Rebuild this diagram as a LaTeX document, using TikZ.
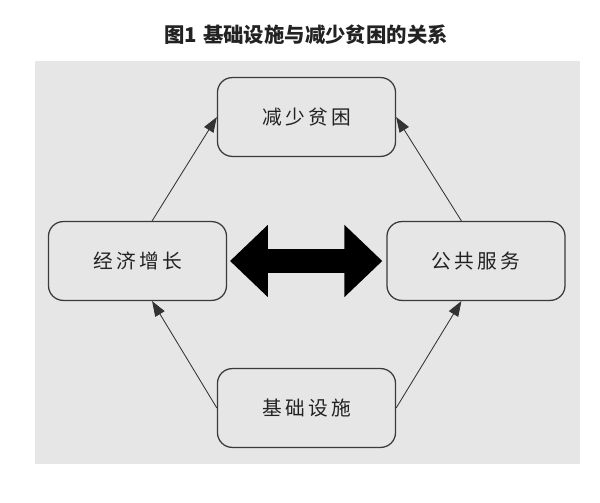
\documentclass[tikz,border=0pt]{standalone}
\usepackage{fontspec}
\usepackage{xcolor}
\usetikzlibrary{arrows.meta}
\newfontfamily\cjk{Noto Sans CJK SC}
\definecolor{colPanel}{HTML}{E6E6E6}
\definecolor{colBdr}  {HTML}{3A3A3A}
\definecolor{colLine} {HTML}{333333}
\definecolor{colText} {HTML}{222222}

\begin{document}
\begin{tikzpicture}[x=0.025cm, y=-0.025cm,
		font=\cjk\fontsize{14}{16}\selectfont,
		topicbox/.style={draw=colBdr, line width=0.9pt, rounded corners=0.37cm,
			minimum width=4.45cm, minimum height=1.97cm, inner sep=0pt, text=colText},
		linkarrow/.style={draw=colLine, line width=0.6pt,
			-{Triangle[length=3.8mm, width=2.7mm]}},
		bigarrow/.style={draw=black, line width=0.58cm,
			{Triangle[length=0.95cm, width=1.75cm]}-{Triangle[length=0.95cm, width=1.75cm]},
			shorten <=0.07cm, shorten >=0.1cm}]
				\useasboundingbox (0,0) rectangle (600,503);
				\fill[white] (0,0) rectangle (600,503);
				\fill[colPanel] (35,61) rectangle (580,464);
				\node[font=\cjk\bfseries\fontsize{14.5}{16}\selectfont, text=colText]
				(title) at (306,35) {图1\hspace{0.3em}基础设施与减少贫困的关系};
				\node[topicbox] (reduce)  at (306.5,117) {减\,少\,贫\,困};
				\node[topicbox] (growth)  at (137.5,261) {经\,济\,增\,长};
				\node[topicbox] (service) at (476,261)   {公\,共\,服\,务};
				\node[topicbox] (infra)   at (306.5,408) {基\,础\,设\,施};
				\draw[linkarrow] (growth.70)   -- (reduce.west);
				\draw[linkarrow] (service.110) -- (reduce.east);
				\draw[linkarrow] (infra.west)  -- (growth.290);
				\draw[linkarrow] (infra.east)  -- (service.250);
				\draw[bigarrow] (growth.east) -- (service.west);
		\end{tikzpicture}
\end{document}
